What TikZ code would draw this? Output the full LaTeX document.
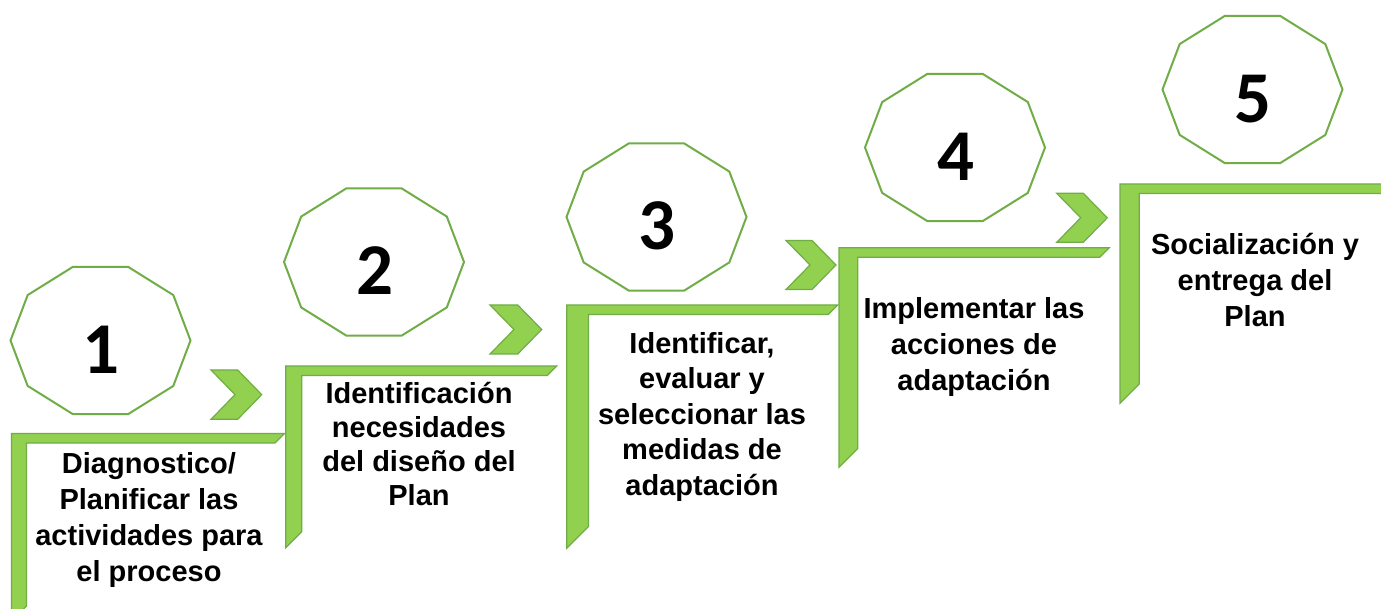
\documentclass[tikz,border=0pt]{standalone}
\usepackage{fontspec}
\setmainfont{Liberation Sans}
\newfontfamily\numfont{Carlito}
\definecolor{gfill}{RGB}{146,208,80}
\definecolor{gline}{RGB}{112,173,71}
\tikzset{
  frame/.style={fill=gfill,draw=gline,line width=1.2pt,line join=miter},
  chev/.style={fill=gfill,draw=gline,line width=1.2pt,line join=miter},
  deca/.style={draw=gline,line width=2pt,fill=white,line join=miter},
  num/.style={anchor=base,inner sep=0pt,font={\numfont\bfseries\fontsize{73}{80}\selectfont}},
  lbl/.style={anchor=base,inner sep=0pt,align=center,font={\bfseries\fontsize{29}{36}\selectfont}},
}
% half frame: x0, y0, vertical thickness, right end, bottom
\newcommand\halfframe[5]{%
  \draw[frame] (#1,#2) -- (#4,#2) -- ({#4-9.5},{#2+9.5}) -- ({#1+#3},{#2+9.5})
    -- ({#1+#3},{#5-#3}) -- (#1,#5) -- cycle;}
% chevron: left x, top y, width, height
\newcommand\mychev[4]{%
  \draw[chev] (#1,#2) -- ({#1+#3-24},#2) -- ({#1+#3},{#2+#4/2}) -- ({#1+#3-24},{#2+#4})
    -- (#1,{#2+#4}) -- ({#1+24},{#2+#4/2}) -- cycle;}
% decagon: cx, cy
\newcommand\mydeca[2]{%
  \draw[deca,shift={(#1,#2)}] (0:90 and 77.3) -- (36:90 and 77.3) -- (72:90 and 77.3)
    -- (108:90 and 77.3) -- (144:90 and 77.3) -- (180:90 and 77.3) -- (216:90 and 77.3)
    -- (252:90 and 77.3) -- (288:90 and 77.3) -- (324:90 and 77.3) -- cycle;}
\begin{document}
\begin{tikzpicture}[x=1pt,y=-1pt]
\useasboundingbox[fill=white] (0,0) rectangle (1381,609);
% frames
\halfframe{11.5}{433.5}{15}{284.5}{621}
\halfframe{285.7}{366}{16}{556.7}{547.7}
\halfframe{566.7}{305}{21.7}{837.7}{548.3}
\halfframe{839}{247.7}{18.7}{1109.3}{467.3}
\halfframe{1120}{184}{19.3}{1400}{403.3}
% chevrons
\mychev{211}{370}{50.7}{49.3}
\mychev{490}{305}{51.7}{49}
\mychev{786}{240.5}{50}{49}
\mychev{1056.7}{193.3}{50.6}{49}
% decagons
\mydeca{100.5}{340.5}
\mydeca{374}{262}
\mydeca{656.5}{217}
\mydeca{955}{147.5}
\mydeca{1252.5}{89.5}
% numbers
\node[num] (n1) at (101,373.5) {1};
\node[num] (n2) at (374.5,295) {2};
\node[num] (n3) at (657,250) {3};
\node[num] (n4) at (955.5,180.5) {4};
\node[num] (n5) at (1252.5,122.5) {5};
% labels (anchor = baseline of last line)
\node[lbl] (t1) at (149,581) {Diagnostico/\\Planificar las\\actividades para\\el proceso};
\node[lbl,font={\bfseries\fontsize{29}{34}\selectfont}] (t2) at (419,505.3) {Identificación\\necesidades\\del diseño del\\Plan};
\node[lbl,font={\bfseries\fontsize{29}{35.5}\selectfont}] (t3) at (702,495.3) {Identificar,\\evaluar y\\seleccionar las\\medidas de\\adaptación};
\node[lbl] (t4) at (974,390.3) {Implementar las\\acciones de\\adaptación};
\node[lbl] (t5) at (1255,327) {Socialización y\\entrega del\\Plan};
\end{tikzpicture}
\end{document}
